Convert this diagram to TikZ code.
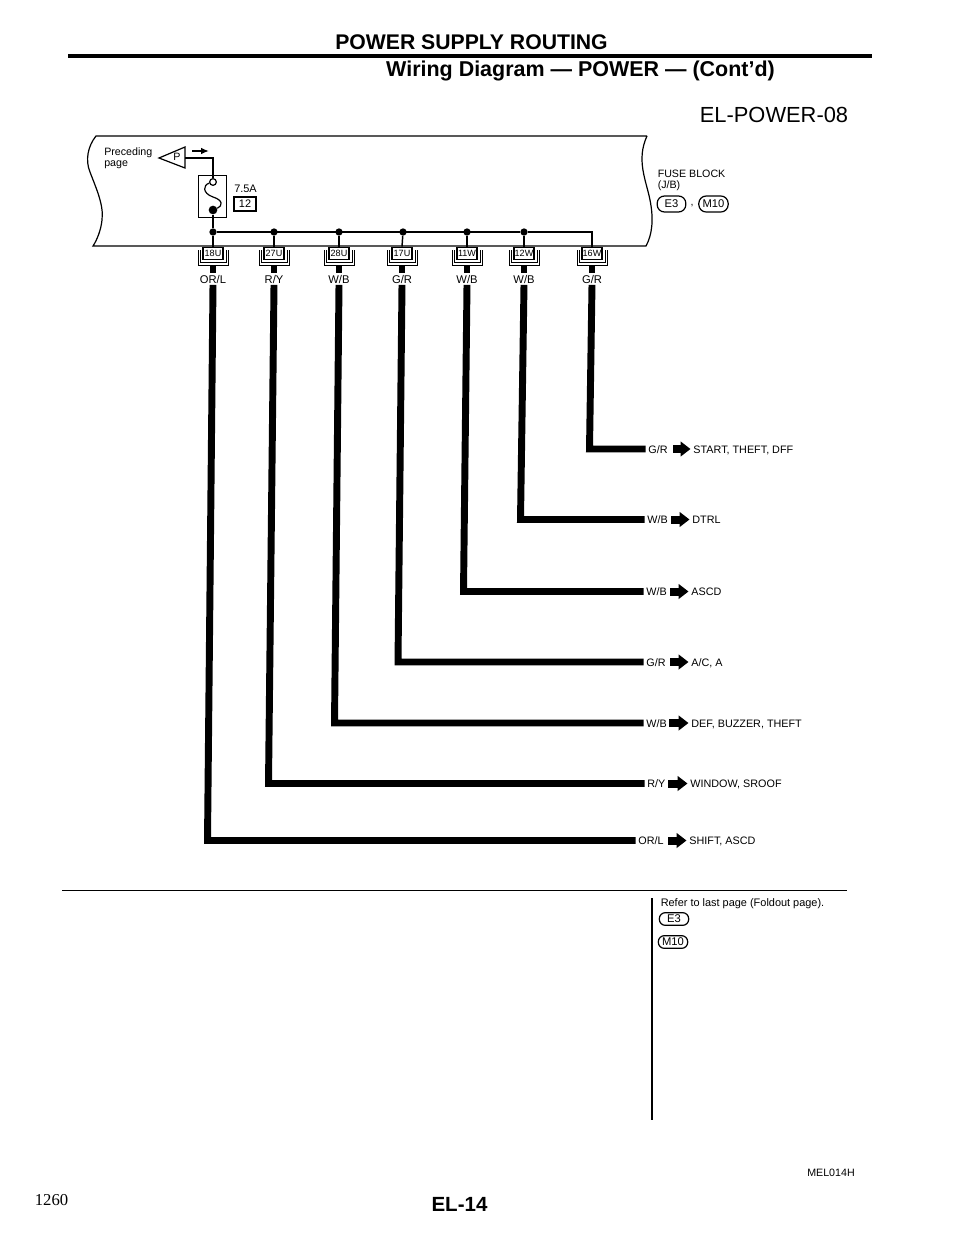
\documentclass[tikz,border=0pt]{standalone}
\usepackage{fontspec}
\setmainfont{Liberation Sans}
\usetikzlibrary{arrows.meta}
\newcommand{\fs}[1]{\fontsize{#1}{#1}\selectfont}
\begin{document}
\begin{tikzpicture}[x=0.75pt, y=-0.75pt,
        every node/.style={font=\fs{8}, inner sep=0pt},
        thin line/.style={line width=0.9pt},
        wire/.style={line width=5.2pt},
        stub/.style={line width=1.1pt},
        dot/.style={circle, fill=black, minimum size=5.5pt},
        conbox/.style={draw, line width=0.8pt, minimum width=15pt, minimum height=9.5pt, font=\fs{6.8}},
        bracket/.style={line width=0.7pt},
        wlabel/.style={font=\fs{8.4}, inner sep=1pt, text height=6.3pt, text depth=0pt},
        endlabel/.style={font=\fs{8.1}, inner sep=2pt, anchor=west, text height=6pt, text depth=0pt},
        fatarrow/.style={line width=6pt, -{Triangle[length=7.5pt, width=11pt]}},
        pill/.style={draw, line width=0.9pt, rounded corners=4.5pt, minimum height=9.5pt, font=\fs{8.4}},
        bigpill/.style={pill, minimum height=12pt, rounded corners=5.5pt}]
        \useasboundingbox (0,0) rectangle (960,1242);

        % page heads
        \node[font=\bfseries\fs{15.9}] (head) at (471.5,42) {POWER SUPPLY ROUTING};
        \node[font=\bfseries\fs{16.1}] (sub) at (580.5,71) {Wiring Diagram — POWER — (Cont’d)};
        \coordinate (ruleL) at (68,56);
        \coordinate (ruleR) at (872,56);
        \draw[line width=2.6pt] (ruleL) -- (ruleR);
        \node[font=\fs{16.4}] (code) at (774,115) {EL-POWER-08};

        % fuse block outline
        \draw[thin line] (647,136) -- (96,136)
                .. controls (88,146) and (85,160) .. (90,172)
                .. controls (96,188) and (104,205) .. (102,220)
                .. controls (101,230) and (97,240) .. (93,246)
                -- (646,246)
                .. controls (652,235) and (654,220) .. (650,200)
                .. controls (646,180) and (636,160) .. (647,136);

        \node[anchor=west] (prec) at (104,153) {Preceding};
        \node[anchor=west] (page) at (104,165) {page};
        \draw[thin line] (159,158) -- (185,147) -- (185,168) -- cycle;
        \node[font=\fs{8}] (pin) at (177,157) {P};
        \coordinate (tail) at (185,158);
        \coordinate (flowA) at (192,151);
        \coordinate (flowB) at (209,151);
        \draw[line width=1.2pt, -{Latex[length=6pt, width=5pt]}] (flowA) -- (flowB);

        \node[draw, thin line, minimum width=21.5pt, minimum height=32pt] (fuse) at (212.5,196.5) {};
        \node[circle, draw, line width=0.9pt, minimum size=5pt, fill=white] (fo) at (213,182) {};
        \node[dot, minimum size=6.5pt] (fd) at (213,210) {};
        \draw[thin line] (tail) -| (fo);
        \draw[thin line] (fo) .. controls (203,185) and (202,193) .. (213,197)
                .. controls (223,200) and (223,206) .. (fd);
        \node[anchor=west, font=\fs{8.2}] (amp) at (234,189) {7.5A};
        \node[draw, thin line, minimum width=16.5pt, minimum height=10.5pt, font=\fs{8.2}] (fnum) at (245,204) {12};

        \node[anchor=west] (fb) at (657.5,174) {FUSE BLOCK};
        \node[anchor=west] (jb) at (657.5,186) {(J/B)};
        \node[bigpill, minimum width=21.5pt] (e3) at (671.5,204) {E3};
        \node (comma) at (692,206) {,};
        \node[bigpill, minimum width=22pt] (m10) at (713.5,204) {M10};

        % bus bar with its taps
        \foreach \n/\x in {18U/213,27U/274,28U/339,17U/403,11W/467,12W/524}
                \node[dot] (d\n) at (\x,232) {};
        \draw[stub] (fd) -- (d18U);

        % terminals of the block
        \foreach \n/\x/\w in {18U/213/{OR/L},27U/274/{R/Y},28U/339/{W/B},17U/402/{G/R},11W/467/{W/B},12W/524/{W/B},16W/592/{G/R}}
        {
                \node[conbox] (c\n) at (\x,253.5) {\n};
                \node[wlabel] (l\n) at (\x,279) {\w};
                \draw[bracket] (\x-15,250) -- (\x-15,265) -- (\x+15,265) -- (\x+15,250);
                \draw[bracket] (\x-13,250) -- (\x-13,262) -- (\x+13,262) -- (\x+13,250);
                \draw[wire, shorten <=4.5pt] (c\n.south) -- (l\n.north);
        }
        \foreach \n in {18U,27U,28U,17U,11W,12W}
                \draw[stub] (d\n) -- (c\n.north);
        \draw[stub] (d18U) -- (d12W) -| (c16W.north);

        % wires and where they go
        \foreach \n/\xb/\y/\xl/\w/\xa/\xt/\dest in {
                16W/589.5/449/645.5/{G/R}/673/690.5/{START, THEFT, DFF},
                12W/520.5/519.5/644.5/{W/B}/671/689.5/{DTRL},
                11W/463.5/591.5/643.5/{W/B}/670/688.5/{ASCD},
                17U/398/662/643.5/{G/R}/670/688.5/{A/C, A},
                28U/334.5/723/643.5/{W/B}/669/688.5/{DEF, BUZZER, THEFT},
                27U/268.5/783.5/644.5/{R/Y}/668/687.5/{WINDOW, SROOF},
                18U/207.5/840.5/635.5/{OR/L}/668/686.5/{SHIFT, ASCD}}
        {
                \coordinate (k\n) at (\xb,\y);
                \coordinate (a\n) at (\xa,\y);
                \node[endlabel] (e\n) at (\xl,\y) {\w};
                \node[endlabel] (t\n) at (\xt,\y) {\dest};
                \draw[wire] (l\n.south) -- (k\n) -- (e\n.west);
                \draw[fatarrow] (a\n) -- (t\n.west);
        }

        % foot of the diagram
        \coordinate (footL) at (62,890.5);
        \coordinate (footR) at (847,890.5);
        \draw[line width=1.1pt] (footL) -- (footR);
        \coordinate (splitT) at (652,898);
        \coordinate (splitB) at (652,1120);
        \draw[line width=1.1pt] (splitT) -- (splitB);
        \node[anchor=west, font=\fs{8.2}] (refer) at (660.5,904) {Refer to last page (Foldout page).};
        \node[pill, minimum width=22pt] (e3b) at (674,919) {E3};
        \node[pill, minimum width=22pt] (m10b) at (673,942) {M10};

        \node[anchor=east] (mel) at (855,1173) {MEL014H};
        \node[font=\fontspec{Liberation Serif}\fs{12.5}] (pgno) at (51.5,1200) {1260};
        \node[font=\bfseries\fs{15.4}] (elno) at (459.5,1204) {EL-14};
\end{tikzpicture}
\end{document}
